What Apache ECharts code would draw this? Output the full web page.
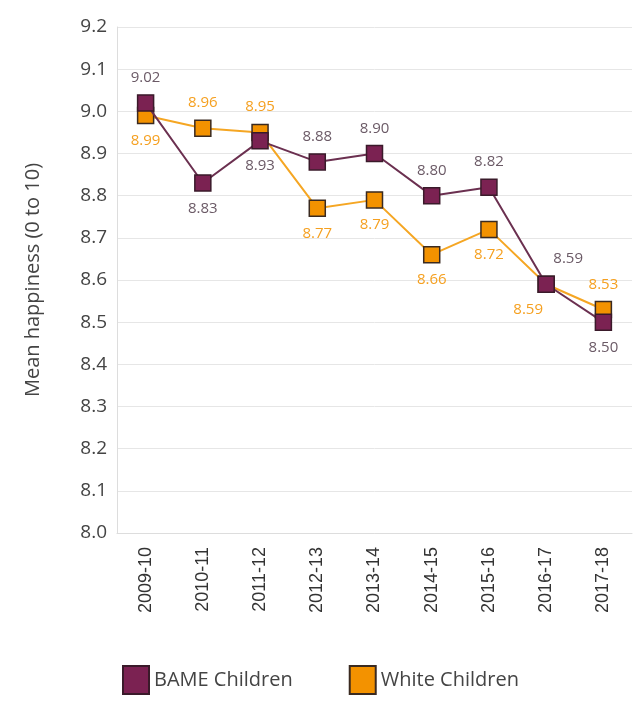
<!DOCTYPE html>
<html><head><meta charset="utf-8">
<script src="https://cdn.jsdelivr.net/npm/echarts@6/dist/echarts.min.js"></script>
<style>html,body{margin:0;padding:0;background:#fff}#c{width:640px;height:702px}</style>
</head><body><div id="c"></div>
<script>
const categories = ['2009-10','2010-11','2011-12','2012-13','2013-14','2014-15','2015-16','2016-17','2017-18'];
const bame = [9.02, 8.83, 8.93, 8.88, 8.90, 8.80, 8.82, 8.59, 8.50];
const white = [8.99, 8.96, 8.95, 8.77, 8.79, 8.66, 8.72, 8.59, 8.53];
const bamePos = ['top','bottom','bottom','top','top','top','top','top','bottom'];
const whitePos = ['bottom','top','top','bottom','bottom','bottom','bottom','bottom','top'];
const yTicks = [8.0, 8.1, 8.2, 8.3, 8.4, 8.5, 8.6, 8.7, 8.8, 8.9, 9.0, 9.1, 9.2];

const font = '"Open Sans", Lato, sans-serif';
const chart = echarts.init(document.getElementById('c'), null, {renderer:'canvas'});
function mk(vals, pos, dx){
  return vals.map((v,i)=>({value:v, label:{position:pos[i], offset:[dx[i],0]}}));
}
chart.setOption({
  animation:false,
  grid:{left:117, right:8, top:27, bottom:169},
  xAxis:{type:'category', data:categories, boundaryGap:true,
    axisLine:{lineStyle:{color:'#ddd'}}, axisTick:{show:false},
    axisLabel:{rotate:90, color:'#333', fontSize:18, fontFamily:'"Liberation Sans", Arial, sans-serif', margin:14}},
  yAxis:{type:'value', min:8.0, max:9.2, interval:0.1,
    name:'Mean happiness (0 to 10)', nameLocation:'middle', nameGap:74, nameRotate:90,
    nameTextStyle:{color:'#444', fontSize:20, fontFamily:font},
    axisLine:{show:true, lineStyle:{color:'#ddd'}}, axisTick:{show:false},
    splitLine:{lineStyle:{color:'#e6e6e6'}},
    axisLabel:{color:'#444', fontSize:19, fontFamily:font, margin:10,
      formatter:v=>v.toFixed(1)}},
  legend:{bottom:2, left:117, itemWidth:26, itemHeight:28, itemGap:56, icon:'rect',
    textStyle:{color:'#444', fontSize:20, fontFamily:font},
    data:['BAME Children','White Children']},
  series:[
    {name:'White Children', type:'line', data:mk(white, whitePos, [0,0,0,0,0,0,0,-18,0]),
      symbol:'rect', symbolSize:16, z:2,
      lineStyle:{color:'#f5a623', width:2},
      itemStyle:{color:'#f39200', borderColor:'#3a2a20', borderWidth:1.5},
      label:{show:true, color:'#f5a020', fontSize:15, fontFamily:font, distance:9, formatter:p=>p.value.toFixed(2)}},
    {name:'BAME Children', type:'line', data:mk(bame, bamePos, [0,0,0,0,0,0,0,22,0]),
      symbol:'rect', symbolSize:16, z:3,
      lineStyle:{color:'#6b3050', width:2},
      itemStyle:{color:'#7b2252', borderColor:'#3a1a2a', borderWidth:1.5},
      label:{show:true, color:'#6b5a66', fontSize:15, fontFamily:font, distance:9, formatter:p=>p.value.toFixed(2)}}
  ]
});
</script></body></html>
